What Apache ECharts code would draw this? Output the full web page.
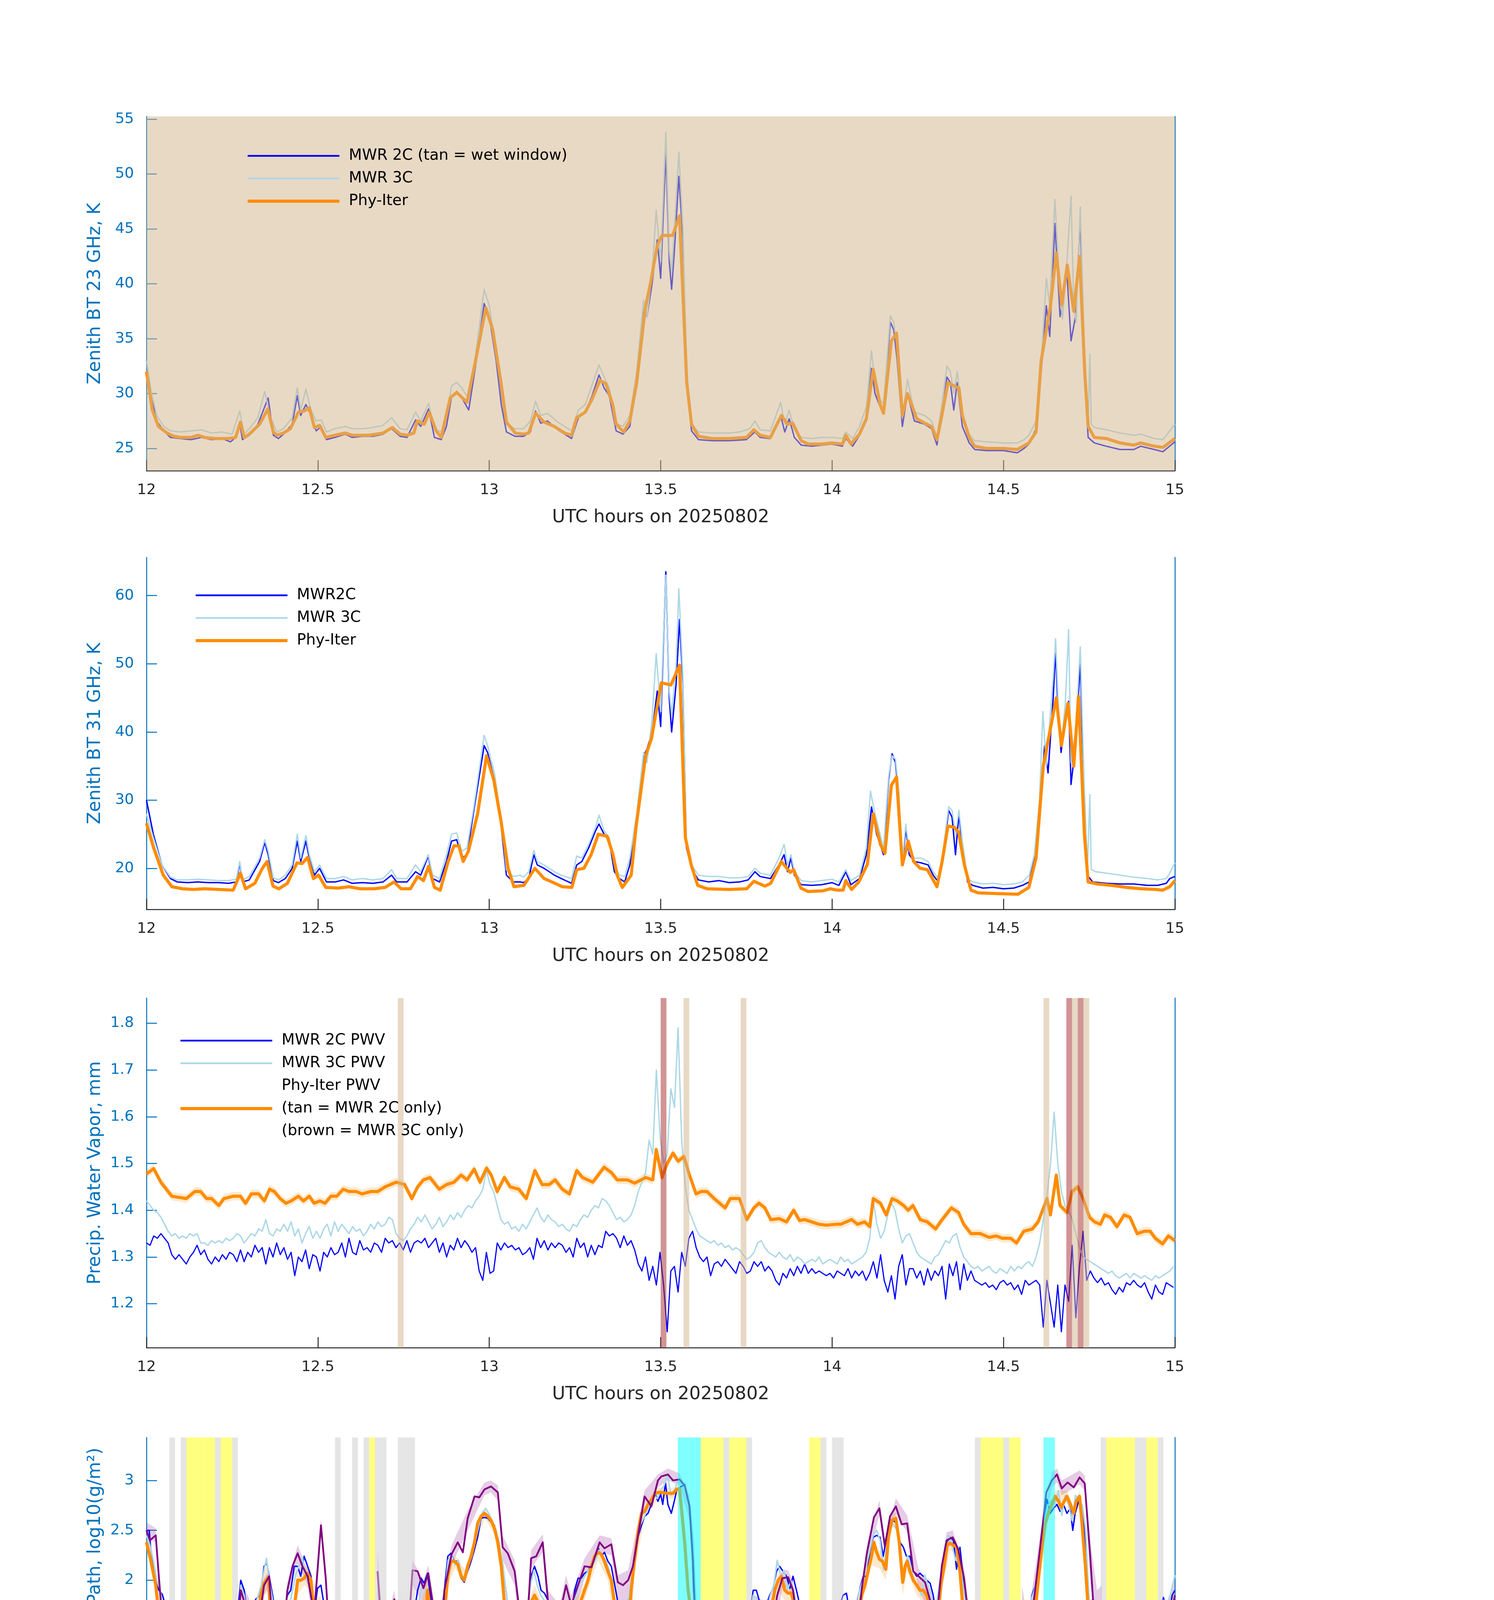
<!DOCTYPE html>
<html><head><meta charset="utf-8">
<script src="https://cdn.jsdelivr.net/npm/echarts@6/dist/echarts.min.js"></script>
<style>html,body{margin:0;padding:0;background:#fff}#c{width:3825px;height:6000px}</style>
</head><body><div id="c"></div>
<script>
// ---------------- DATA ----------------
// Panel 1: zenith brightness temperature 23 GHz (K), [UTC hour, value]
const tb23_2c = [[12.0,33.0],[12.015,29.5],[12.03,27.5],[12.05,26.6],[12.07,26.0],[12.10,25.9],[12.13,25.8],[12.16,26.0],[12.19,25.8],[12.22,25.9],[12.245,25.6],[12.26,26.0],[12.272,27.3],[12.28,25.8],[12.30,26.2],[12.325,27.2],[12.345,28.8],[12.355,29.6],[12.37,26.2],[12.385,25.9],[12.40,26.3],[12.425,27.2],[12.44,29.8],[12.45,28.0],[12.465,29.0],[12.48,28.0],[12.495,26.6],[12.51,27.0],[12.525,25.8],[12.55,26.0],[12.58,26.3],[12.60,26.0],[12.63,26.1],[12.66,26.1],[12.69,26.3],[12.715,26.8],[12.74,26.1],[12.76,26.0],[12.785,27.6],[12.80,27.0],[12.823,28.6],[12.84,26.0],[12.86,25.8],[12.875,27.0],[12.89,29.7],[12.905,30.2],[12.92,29.6],[12.94,28.5],[12.96,32.5],[12.985,38.2],[13.0,37.0],[13.02,33.0],[13.035,29.0],[13.05,26.5],[13.075,26.1],[13.10,26.1],[13.12,26.5],[13.135,28.4],[13.15,27.3],[13.17,27.5],[13.20,26.7],[13.24,25.9],[13.26,27.8],[13.28,28.3],[13.30,29.8],[13.32,31.7],[13.335,30.5],[13.35,29.8],[13.37,26.6],[13.39,26.3],[13.41,27.0],[13.43,31.0],[13.45,37.5],[13.46,37.0],[13.475,40.0],[13.49,44.0],[13.50,40.5],[13.515,52.0],[13.525,42.0],[13.532,39.5],[13.54,43.0],[13.553,49.8],[13.565,44.0],[13.576,31.0],[13.59,26.6],[13.61,25.8],[13.65,25.7],[13.70,25.7],[13.75,25.8],[13.775,26.5],[13.79,26.0],[13.82,25.9],[13.85,28.0],[13.862,26.5],[13.875,27.7],[13.89,26.0],[13.91,25.3],[13.94,25.2],[13.97,25.3],[14.00,25.4],[14.03,25.2],[14.04,25.9],[14.06,25.2],[14.08,26.2],[14.10,27.8],[14.115,32.3],[14.125,30.0],[14.14,28.8],[14.15,28.5],[14.17,36.5],[14.18,35.8],[14.19,33.0],[14.205,27.0],[14.22,30.0],[14.24,27.5],[14.27,27.2],[14.29,26.8],[14.306,25.3],[14.32,28.0],[14.335,31.5],[14.345,31.0],[14.355,28.5],[14.365,31.0],[14.38,27.0],[14.40,25.5],[14.416,24.9],[14.45,24.8],[14.50,24.8],[14.54,24.6],[14.56,25.0],[14.574,25.4],[14.595,26.8],[14.61,32.0],[14.625,38.0],[14.635,35.2],[14.65,45.5],[14.665,37.0],[14.675,39.0],[14.685,41.0],[14.697,34.8],[14.71,37.0],[14.724,45.9],[14.737,31.0],[14.747,26.0],[14.765,25.5],[14.80,25.2],[14.84,24.9],[14.88,24.9],[14.90,25.2],[14.94,24.9],[14.965,24.7],[15.0,25.6]];
const tb23_3c = [[12.0,33.0],[12.015,30.0],[12.03,28.0],[12.05,27.0],[12.07,26.6],[12.10,26.5],[12.13,26.6],[12.16,26.7],[12.19,26.4],[12.22,26.5],[12.25,26.3],[12.272,28.4],[12.285,26.3],[12.30,26.8],[12.325,27.8],[12.345,30.2],[12.36,28.0],[12.38,26.5],[12.40,26.8],[12.425,27.8],[12.44,30.5],[12.45,28.5],[12.465,30.4],[12.48,28.5],[12.495,27.5],[12.51,27.6],[12.525,26.5],[12.55,26.8],[12.58,27.0],[12.60,26.8],[12.63,26.8],[12.66,26.9],[12.69,27.1],[12.715,27.8],[12.74,26.8],[12.76,26.7],[12.785,28.3],[12.80,27.5],[12.823,29.1],[12.84,26.8],[12.86,26.5],[12.875,28.0],[12.89,30.7],[12.905,31.0],[12.92,30.5],[12.94,29.5],[12.96,33.5],[12.985,39.5],[13.0,38.0],[13.02,34.0],[13.035,30.0],[13.05,27.2],[13.075,26.8],[13.10,26.8],[13.12,27.5],[13.135,29.3],[13.15,28.0],[13.17,28.2],[13.20,27.4],[13.24,26.6],[13.26,28.5],[13.28,29.0],[13.30,30.8],[13.32,32.6],[13.335,31.5],[13.35,30.5],[13.37,27.3],[13.39,27.0],[13.41,28.0],[13.43,32.0],[13.45,38.5],[13.46,37.0],[13.475,41.0],[13.487,46.7],[13.50,42.0],[13.515,53.8],[13.525,43.0],[13.532,41.0],[13.54,45.0],[13.553,52.0],[13.565,45.0],[13.576,32.0],[13.59,27.2],[13.61,26.5],[13.65,26.4],[13.70,26.4],[13.73,26.5],[13.76,26.8],[13.775,27.5],[13.79,26.7],[13.82,26.6],[13.85,29.2],[13.862,27.2],[13.875,28.5],[13.89,26.7],[13.91,26.0],[13.94,25.9],[13.97,26.0],[14.00,26.0],[14.03,25.9],[14.04,26.5],[14.06,25.9],[14.08,27.0],[14.10,28.8],[14.115,33.9],[14.125,31.0],[14.14,29.5],[14.15,29.0],[14.17,37.1],[14.18,36.5],[14.19,34.0],[14.205,27.8],[14.22,31.3],[14.24,28.3],[14.27,28.0],[14.29,27.5],[14.306,26.0],[14.32,29.0],[14.335,32.5],[14.345,32.0],[14.355,30.0],[14.365,32.0],[14.38,28.0],[14.40,26.3],[14.416,25.7],[14.45,25.6],[14.50,25.5],[14.54,25.5],[14.56,25.8],[14.574,26.2],[14.595,27.5],[14.61,33.0],[14.625,40.5],[14.635,38.0],[14.65,47.7],[14.665,39.0],[14.672,36.8],[14.685,42.0],[14.697,48.0],[14.705,38.0],[14.712,36.5],[14.724,47.0],[14.737,33.0],[14.747,27.5],[14.752,33.6],[14.756,27.2],[14.765,26.9],[14.80,26.7],[14.84,26.4],[14.88,26.2],[14.90,26.3],[14.94,25.9],[14.965,25.8],[15.0,27.2]];
const tb23_phy = [[12.0,32.0],[12.017,28.5],[12.035,27.0],[12.06,26.4],[12.08,26.1],[12.10,26.0],[12.13,26.0],[12.15,26.2],[12.17,26.0],[12.20,25.9],[12.24,25.9],[12.26,26.0],[12.274,27.4],[12.285,26.0],[12.30,26.3],[12.33,27.2],[12.354,28.6],[12.37,26.5],[12.38,26.2],[12.40,26.4],[12.42,26.8],[12.443,28.3],[12.46,28.4],[12.475,28.7],[12.49,26.9],[12.505,27.1],[12.523,26.0],[12.55,26.2],[12.58,26.4],[12.60,26.2],[12.65,26.2],[12.69,26.4],[12.717,26.9],[12.74,26.3],[12.76,26.2],[12.78,26.4],[12.79,27.5],[12.81,27.2],[12.825,28.3],[12.845,26.6],[12.86,26.0],[12.886,29.6],[12.905,30.1],[12.935,29.2],[12.96,33.0],[12.99,37.8],[13.01,35.8],[13.034,31.0],[13.05,27.4],[13.076,26.4],[13.10,26.3],[13.115,26.4],[13.135,28.2],[13.16,27.4],[13.19,27.0],[13.22,26.4],[13.24,26.2],[13.255,27.8],[13.28,28.3],[13.30,29.5],[13.323,31.2],[13.34,30.9],[13.36,29.0],[13.37,27.2],[13.392,26.5],[13.41,27.5],[13.43,31.0],[13.455,37.8],[13.47,40.0],[13.49,43.5],[13.504,44.4],[13.535,44.4],[13.555,46.2],[13.576,31.0],[13.59,27.2],[13.61,26.1],[13.65,25.9],[13.70,25.9],[13.75,26.0],[13.772,26.7],[13.79,26.2],[13.82,26.0],[13.852,28.0],[13.87,27.2],[13.885,27.3],[13.91,25.7],[13.93,25.4],[13.97,25.4],[14.00,25.5],[14.03,25.4],[14.04,26.2],[14.055,25.4],[14.08,26.3],[14.10,27.7],[14.12,32.2],[14.14,29.0],[14.15,28.2],[14.173,34.8],[14.188,35.5],[14.205,28.0],[14.22,30.0],[14.247,27.7],[14.27,27.3],[14.29,27.0],[14.306,25.8],[14.32,28.0],[14.338,31.0],[14.355,30.7],[14.37,30.5],[14.38,28.0],[14.40,26.0],[14.416,25.2],[14.45,25.0],[14.50,25.0],[14.54,24.9],[14.574,25.5],[14.595,26.5],[14.61,33.0],[14.637,38.0],[14.654,42.8],[14.67,38.1],[14.686,41.7],[14.705,37.5],[14.722,42.5],[14.737,32.0],[14.747,27.0],[14.765,26.0],[14.80,25.9],[14.84,25.5],[14.88,25.3],[14.90,25.5],[14.94,25.2],[14.965,25.1],[15.0,25.9]];

// Panel 2: zenith brightness temperature 31 GHz (K)
const tb31_2c = [[12.0,30.0],[12.02,25.0],[12.045,20.5],[12.07,18.5],[12.09,18.0],[12.12,17.9],[12.15,18.0],[12.18,17.9],[12.21,17.9],[12.24,17.8],[12.262,18.0],[12.272,20.8],[12.28,18.0],[12.30,18.3],[12.33,21.0],[12.345,23.8],[12.355,22.0],[12.37,18.2],[12.385,17.9],[12.405,18.5],[12.425,20.0],[12.44,24.0],[12.45,21.0],[12.465,24.0],[12.475,21.5],[12.49,19.0],[12.505,20.0],[12.525,18.0],[12.55,18.0],[12.575,18.3],[12.60,17.8],[12.63,17.9],[12.66,17.8],[12.69,18.0],[12.715,19.0],[12.73,18.0],[12.76,18.0],[12.785,19.5],[12.80,19.0],[12.822,21.8],[12.835,18.5],[12.855,18.0],[12.875,21.0],[12.89,24.0],[12.905,24.2],[12.92,21.5],[12.935,22.0],[12.955,28.5],[12.985,38.0],[12.995,37.0],[13.015,33.0],[13.035,26.0],[13.05,19.0],[13.07,18.0],[13.09,18.0],[13.10,17.9],[13.115,18.5],[13.13,22.0],[13.14,20.5],[13.16,20.0],[13.19,19.0],[13.21,18.5],[13.24,17.8],[13.255,20.5],[13.27,21.0],[13.29,23.0],[13.31,25.5],[13.32,26.5],[13.335,25.0],[13.35,24.0],[13.365,19.5],[13.38,18.5],[13.395,18.0],[13.41,20.5],[13.43,27.0],[13.45,36.5],[13.46,37.5],[13.475,40.0],[13.49,46.0],[13.50,40.8],[13.515,63.5],[13.525,45.0],[13.532,40.0],[13.545,47.0],[13.555,56.5],[13.565,47.0],[13.575,23.0],[13.59,20.0],[13.61,18.3],[13.64,18.0],[13.67,18.2],[13.70,17.9],[13.73,18.0],[13.755,18.3],[13.775,19.5],[13.79,18.8],[13.82,18.5],[13.845,20.5],[13.86,22.0],[13.87,19.5],[13.88,21.5],[13.89,19.0],[13.91,17.6],[13.94,17.5],[13.97,17.6],[14.00,17.9],[14.02,17.5],[14.04,19.5],[14.055,17.6],[14.08,18.5],[14.10,22.0],[14.115,29.0],[14.13,25.0],[14.15,22.0],[14.165,33.0],[14.175,36.8],[14.185,35.5],[14.195,30.0],[14.205,20.5],[14.215,25.8],[14.225,22.0],[14.24,21.0],[14.26,20.8],[14.28,20.5],[14.295,19.0],[14.31,18.0],[14.325,22.0],[14.34,28.5],[14.35,27.5],[14.36,22.0],[14.37,28.0],[14.38,23.0],[14.395,18.0],[14.41,17.5],[14.44,17.1],[14.47,17.2],[14.50,17.0],[14.53,17.1],[14.555,17.5],[14.575,18.0],[14.59,21.5],[14.605,28.0],[14.62,38.0],[14.63,34.0],[14.645,45.0],[14.652,52.0],[14.66,42.0],[14.668,37.0],[14.68,42.0],[14.69,44.5],[14.697,32.3],[14.71,38.0],[14.724,50.2],[14.735,31.0],[14.745,19.0],[14.76,18.0],[14.80,17.8],[14.84,17.7],[14.88,17.7],[14.92,17.5],[14.95,17.5],[14.975,17.8],[14.985,18.5],[15.0,18.8]];
const tb31_3c = [[12.0,28.0],[12.02,24.5],[12.045,20.5],[12.07,18.7],[12.09,18.3],[12.12,18.3],[12.15,18.4],[12.18,18.3],[12.21,18.2],[12.24,18.2],[12.262,18.4],[12.272,21.0],[12.28,18.3],[12.30,18.8],[12.33,21.5],[12.345,24.2],[12.355,22.5],[12.37,18.6],[12.385,18.3],[12.405,19.0],[12.425,20.5],[12.44,25.0],[12.45,21.5],[12.465,24.8],[12.475,22.0],[12.49,19.5],[12.505,20.5],[12.525,18.5],[12.55,18.5],[12.575,18.8],[12.60,18.3],[12.63,18.5],[12.66,18.3],[12.69,18.5],[12.715,19.8],[12.73,18.5],[12.76,18.5],[12.785,20.5],[12.80,19.5],[12.822,22.0],[12.835,19.0],[12.855,18.5],[12.875,22.0],[12.89,25.0],[12.905,25.2],[12.92,22.5],[12.935,23.0],[12.955,29.0],[12.985,39.5],[12.995,38.0],[13.015,34.0],[13.035,27.0],[13.05,19.8],[13.07,18.8],[13.09,19.0],[13.10,18.7],[13.115,19.5],[13.13,22.6],[13.14,21.0],[13.16,20.5],[13.19,19.5],[13.21,19.0],[13.24,18.5],[13.255,21.8],[13.27,21.5],[13.29,23.5],[13.31,26.0],[13.32,27.8],[13.335,25.5],[13.35,24.5],[13.365,20.5],[13.38,19.0],[13.395,18.8],[13.41,21.5],[13.43,28.0],[13.45,37.0],[13.46,35.5],[13.475,42.0],[13.487,51.5],[13.50,43.0],[13.515,63.0],[13.525,46.0],[13.532,42.5],[13.545,50.0],[13.553,61.0],[13.565,48.0],[13.575,24.0],[13.59,20.5],[13.61,19.0],[13.64,18.8],[13.67,18.8],[13.70,18.6],[13.73,18.6],[13.755,18.8],[13.775,20.0],[13.79,19.3],[13.82,19.0],[13.845,21.5],[13.86,23.5],[13.87,20.5],[13.88,22.0],[13.89,19.5],[13.91,18.2],[13.94,18.0],[13.97,18.2],[14.00,18.4],[14.02,18.0],[14.04,19.8],[14.055,18.2],[14.08,19.0],[14.10,23.0],[14.112,31.3],[14.125,28.0],[14.15,23.0],[14.165,33.5],[14.175,36.5],[14.185,36.0],[14.195,31.0],[14.205,21.0],[14.215,26.5],[14.225,22.5],[14.24,21.5],[14.26,21.5],[14.28,21.0],[14.295,19.5],[14.31,18.5],[14.325,23.0],[14.34,29.0],[14.35,28.5],[14.36,25.0],[14.37,28.5],[14.38,24.0],[14.395,18.5],[14.41,18.0],[14.44,17.7],[14.47,17.8],[14.50,17.6],[14.53,17.7],[14.555,18.0],[14.575,19.0],[14.59,22.0],[14.605,30.0],[14.615,43.0],[14.625,35.0],[14.645,48.0],[14.652,53.7],[14.66,44.0],[14.668,38.0],[14.68,44.0],[14.69,55.0],[14.697,35.5],[14.71,40.0],[14.724,52.5],[14.735,33.0],[14.745,20.0],[14.752,30.8],[14.756,19.8],[14.77,19.5],[14.80,19.3],[14.84,19.0],[14.88,18.7],[14.92,18.5],[14.95,18.3],[14.975,18.5],[14.985,19.3],[15.0,20.8]];
const tb31_phy = [[12.000,26.6],[12.021,23.0],[12.049,19.0],[12.074,17.3],[12.105,17.0],[12.137,16.9],[12.169,17.0],[12.211,16.9],[12.253,16.8],[12.274,19.3],[12.289,17.0],[12.316,17.8],[12.338,20.0],[12.352,21.0],[12.369,17.4],[12.386,17.0],[12.411,17.8],[12.439,20.8],[12.454,20.7],[12.470,21.6],[12.487,18.5],[12.502,19.0],[12.523,17.2],[12.559,17.1],[12.591,17.3],[12.622,17.0],[12.665,17.0],[12.696,17.2],[12.722,18.0],[12.743,17.0],[12.770,17.0],[12.791,18.8],[12.808,18.2],[12.823,20.3],[12.840,17.2],[12.857,16.8],[12.880,21.0],[12.897,23.3],[12.911,23.3],[12.924,21.0],[12.939,22.5],[12.966,28.0],[12.992,36.5],[13.013,33.0],[13.034,27.0],[13.055,20.0],[13.072,17.3],[13.101,17.5],[13.133,20.0],[13.160,18.5],[13.192,17.8],[13.213,17.3],[13.241,17.2],[13.255,19.8],[13.276,20.0],[13.297,22.0],[13.318,25.0],[13.344,24.7],[13.361,22.0],[13.373,19.0],[13.388,17.2],[13.414,19.0],[13.428,26.0],[13.456,36.5],[13.473,39.0],[13.487,43.0],[13.502,47.2],[13.530,46.9],[13.555,49.8],[13.572,24.5],[13.589,20.5],[13.608,17.5],[13.635,17.0],[13.698,16.9],[13.751,17.0],[13.772,18.1],[13.804,17.4],[13.821,17.8],[13.852,21.0],[13.878,19.4],[13.888,19.8],[13.909,17.1],[13.930,16.6],[13.973,16.7],[13.994,17.0],[14.015,16.8],[14.032,16.8],[14.040,18.2],[14.057,16.9],[14.078,18.0],[14.103,20.6],[14.120,28.0],[14.141,23.5],[14.154,22.2],[14.173,32.2],[14.188,33.4],[14.205,20.5],[14.222,24.0],[14.238,21.0],[14.257,20.0],[14.278,19.8],[14.306,17.3],[14.321,21.0],[14.338,26.2],[14.357,26.0],[14.369,25.3],[14.386,20.5],[14.405,16.8],[14.426,16.4],[14.479,16.3],[14.542,16.2],[14.574,17.2],[14.595,21.5],[14.616,35.0],[14.637,40.5],[14.654,45.0],[14.669,38.0],[14.688,44.2],[14.705,35.0],[14.719,45.2],[14.736,25.0],[14.747,18.0],[14.774,17.7],[14.816,17.5],[14.859,17.2],[14.901,17.0],[14.943,16.9],[14.964,16.8],[14.985,17.3],[15.000,18.2]];

// Panel 3: precipitable water vapor (mm). MWR samples every PWV_DT hours from PWV_T0
const PWV_T0 = 12.0, PWV_DT = 0.010549;
const pwv_2c = [
1.33,1.325,1.345,1.34,1.35,1.34,1.33,1.305,1.295,1.305,1.295,1.285,1.3,1.31,1.325,1.305,1.315,1.295,1.285,1.3,
1.29,1.305,1.295,1.31,1.305,1.29,1.315,1.29,1.31,1.3,1.325,1.31,1.32,1.285,1.32,1.3,1.33,1.305,1.32,1.295,
1.31,1.26,1.3,1.29,1.315,1.275,1.305,1.3,1.27,1.31,1.3,1.32,1.305,1.31,1.33,1.3,1.34,1.31,1.305,1.335,
1.315,1.32,1.31,1.33,1.325,1.31,1.34,1.33,1.335,1.32,1.33,1.315,1.335,1.31,1.33,1.335,1.33,1.34,1.32,1.33,
1.34,1.31,1.33,1.3,1.325,1.315,1.34,1.32,1.335,1.325,1.31,1.32,1.27,1.25,1.31,1.265,1.27,1.33,1.315,1.33,
1.32,1.325,1.315,1.32,1.305,1.31,1.32,1.295,1.34,1.32,1.335,1.315,1.33,1.32,1.33,1.325,1.31,1.32,1.3,1.34,
1.32,1.33,1.3,1.325,1.305,1.325,1.32,1.355,1.345,1.35,1.34,1.32,1.345,1.325,1.335,1.315,1.285,1.27,1.3,1.25,
1.28,1.24,1.31,1.24,1.14,1.27,1.28,1.225,1.31,1.28,1.34,1.355,1.32,1.3,1.29,1.3,1.26,1.285,1.29,1.28,
1.295,1.285,1.275,1.265,1.29,1.28,1.265,1.27,1.29,1.28,1.29,1.27,1.28,1.27,1.25,1.24,1.265,1.255,1.275,1.26,
1.28,1.265,1.285,1.265,1.275,1.265,1.27,1.265,1.26,1.265,1.255,1.27,1.265,1.26,1.275,1.255,1.27,1.26,1.27,1.25,
1.265,1.29,1.255,1.305,1.25,1.225,1.26,1.21,1.28,1.305,1.24,1.275,1.275,1.255,1.27,1.24,1.275,1.25,1.27,1.26,
1.28,1.21,1.285,1.26,1.29,1.23,1.285,1.25,1.27,1.25,1.245,1.24,1.245,1.235,1.24,1.23,1.245,1.25,1.24,1.245,
1.23,1.24,1.22,1.25,1.24,1.245,1.25,1.24,1.15,1.25,1.2,1.15,1.24,1.14,1.24,1.205,1.325,1.17,1.28,1.355,
1.25,1.27,1.255,1.245,1.255,1.24,1.245,1.23,1.22,1.235,1.225,1.245,1.24,1.25,1.24,1.235,1.245,1.225,1.21,1.24,
1.225,1.22,1.245,1.24,1.235];
const pwv_3c = [
1.42,1.41,1.40,1.395,1.385,1.37,1.355,1.345,1.35,1.34,1.345,1.34,1.35,1.345,1.35,1.33,1.33,1.325,1.335,1.33,
1.335,1.33,1.34,1.335,1.34,1.35,1.345,1.33,1.34,1.35,1.345,1.36,1.355,1.38,1.35,1.345,1.36,1.355,1.37,1.355,
1.375,1.345,1.36,1.33,1.35,1.365,1.34,1.355,1.34,1.36,1.37,1.345,1.375,1.355,1.37,1.36,1.35,1.365,1.355,1.36,
1.345,1.355,1.37,1.36,1.375,1.365,1.37,1.385,1.38,1.35,1.34,1.335,1.345,1.36,1.37,1.385,1.375,1.39,1.375,1.36,
1.37,1.385,1.365,1.375,1.39,1.38,1.395,1.385,1.40,1.41,1.405,1.42,1.43,1.445,1.485,1.455,1.44,1.41,1.38,1.37,
1.375,1.36,1.365,1.355,1.37,1.36,1.375,1.39,1.405,1.385,1.375,1.39,1.38,1.375,1.365,1.37,1.36,1.355,1.37,1.365,
1.38,1.39,1.385,1.40,1.41,1.405,1.425,1.42,1.41,1.395,1.38,1.385,1.375,1.38,1.39,1.41,1.44,1.46,1.48,1.55,
1.52,1.70,1.56,1.50,1.52,1.66,1.62,1.79,1.55,1.45,1.40,1.38,1.36,1.345,1.34,1.335,1.33,1.335,1.325,1.33,
1.32,1.325,1.315,1.32,1.315,1.305,1.295,1.30,1.31,1.33,1.335,1.32,1.31,1.305,1.30,1.31,1.30,1.295,1.305,1.29,
1.30,1.295,1.285,1.29,1.295,1.29,1.30,1.285,1.29,1.295,1.29,1.285,1.30,1.29,1.295,1.285,1.29,1.295,1.30,1.31,
1.34,1.42,1.37,1.34,1.355,1.39,1.415,1.40,1.36,1.33,1.345,1.35,1.33,1.31,1.30,1.295,1.29,1.285,1.30,1.305,
1.32,1.335,1.33,1.345,1.35,1.32,1.30,1.29,1.28,1.275,1.28,1.27,1.275,1.28,1.27,1.265,1.275,1.27,1.265,1.28,
1.27,1.28,1.275,1.285,1.29,1.28,1.30,1.33,1.38,1.43,1.50,1.61,1.50,1.44,1.41,1.40,1.38,1.35,1.32,1.30,
1.295,1.29,1.285,1.28,1.275,1.27,1.265,1.27,1.26,1.255,1.26,1.265,1.255,1.265,1.26,1.255,1.26,1.255,1.25,1.26,
1.255,1.26,1.265,1.27,1.28];
const pwv_phy = [[12.000,1.478],[12.021,1.489],[12.042,1.46],[12.074,1.43],[12.116,1.425],[12.141,1.44],[12.158,1.44],[12.175,1.425],[12.190,1.425],[12.211,1.41],[12.226,1.425],[12.253,1.43],[12.274,1.43],[12.289,1.415],[12.306,1.435],[12.327,1.435],[12.344,1.42],[12.359,1.445],[12.373,1.44],[12.390,1.425],[12.407,1.415],[12.422,1.42],[12.443,1.43],[12.458,1.42],[12.475,1.43],[12.489,1.415],[12.506,1.42],[12.521,1.415],[12.538,1.43],[12.555,1.43],[12.574,1.445],[12.591,1.44],[12.612,1.44],[12.629,1.435],[12.654,1.44],[12.675,1.44],[12.696,1.45],[12.728,1.46],[12.753,1.455],[12.774,1.425],[12.791,1.45],[12.808,1.465],[12.827,1.47],[12.854,1.445],[12.876,1.455],[12.897,1.46],[12.918,1.475],[12.935,1.465],[12.956,1.488],[12.973,1.46],[12.992,1.49],[13.006,1.475],[13.023,1.44],[13.044,1.47],[13.061,1.45],[13.086,1.445],[13.108,1.425],[13.133,1.485],[13.154,1.455],[13.175,1.455],[13.192,1.465],[13.213,1.445],[13.234,1.435],[13.255,1.485],[13.272,1.47],[13.302,1.46],[13.335,1.492],[13.357,1.48],[13.373,1.465],[13.403,1.465],[13.424,1.458],[13.456,1.47],[13.477,1.465],[13.487,1.53],[13.504,1.47],[13.519,1.5],[13.536,1.522],[13.551,1.505],[13.568,1.515],[13.582,1.48],[13.603,1.435],[13.618,1.44],[13.635,1.44],[13.656,1.425],[13.688,1.405],[13.703,1.425],[13.730,1.425],[13.751,1.38],[13.772,1.405],[13.787,1.415],[13.804,1.405],[13.821,1.38],[13.846,1.382],[13.867,1.375],[13.888,1.4],[13.905,1.378],[13.920,1.38],[13.941,1.375],[13.962,1.37],[13.983,1.368],[14.011,1.37],[14.025,1.37],[14.057,1.38],[14.074,1.37],[14.095,1.375],[14.110,1.365],[14.120,1.425],[14.141,1.415],[14.158,1.39],[14.175,1.425],[14.190,1.42],[14.209,1.41],[14.222,1.4],[14.236,1.41],[14.257,1.38],[14.278,1.375],[14.302,1.36],[14.321,1.38],[14.348,1.405],[14.369,1.395],[14.384,1.37],[14.405,1.35],[14.432,1.35],[14.458,1.342],[14.479,1.345],[14.496,1.34],[14.521,1.34],[14.538,1.33],[14.559,1.355],[14.584,1.36],[14.601,1.375],[14.627,1.425],[14.637,1.39],[14.654,1.475],[14.665,1.41],[14.686,1.395],[14.700,1.44],[14.717,1.45],[14.732,1.425],[14.751,1.385],[14.766,1.375],[14.783,1.37],[14.795,1.39],[14.812,1.385],[14.831,1.365],[14.852,1.39],[14.869,1.385],[14.890,1.35],[14.911,1.355],[14.928,1.355],[14.943,1.34],[14.964,1.328],[14.981,1.345],[15.000,1.335]];
const PWV_PHY_UNC = 0.009;
// single-instrument windows: [start hour, end hour, kind]
const pwvWindows = [[12.7333,12.75,'tan'],[13.5,13.5167,'brown'],[13.5667,13.5833,'tan'],[13.7333,13.75,'tan'],[14.6167,14.6333,'tan'],[14.6833,14.7,'brown'],[14.7,14.7167,'tan'],[14.7167,14.7333,'brown'],[14.7333,14.75,'tan']];
const wetWindows = [[12.0,15.0,'tan']];

// Panel 4: log10 liquid water path
const lwp_2c = [[12.000,2.50],[12.008,2.50],[12.012,2.33],[12.027,2.02],[12.036,1.90],[12.046,1.86],[12.056,1.74],[12.066,1.71],[12.075,1.69],[12.085,1.72],[12.095,1.66],[12.105,1.67],[12.116,1.66],[12.13,1.64],[12.14,1.66],[12.15,1.62],[12.16,1.66],[12.17,1.63],[12.18,1.67],[12.19,1.65],[12.20,1.66],[12.21,1.64],[12.22,1.67],[12.23,1.63],[12.24,1.65],[12.25,1.62],[12.26,1.64],[12.265,1.65],[12.275,2.00],[12.285,1.90],[12.294,1.66],[12.304,1.67],[12.319,1.81],[12.333,1.86],[12.343,2.14],[12.351,2.17],[12.358,2.04],[12.368,1.85],[12.377,1.66],[12.384,1.78],[12.392,1.66],[12.402,1.69],[12.411,1.85],[12.421,1.90],[12.431,2.14],[12.441,2.14],[12.450,2.04],[12.460,2.24],[12.470,2.14],[12.480,2.04],[12.489,1.66],[12.499,1.92],[12.509,1.95],[12.518,1.75],[12.528,1.66],[12.538,1.68],[12.548,1.61],[12.557,1.63],[12.567,1.68],[12.577,1.69],[12.587,1.66],[12.596,1.61],[12.606,1.63],[12.616,1.60],[12.625,1.60],[12.635,1.63],[12.645,1.60],[12.655,1.59],[12.665,1.61],[12.674,1.63],[12.684,1.66],[12.694,1.63],[12.704,1.66],[12.713,1.61],[12.723,1.63],[12.733,1.63],[12.742,1.63],[12.752,1.66],[12.762,1.63],[12.771,1.66],[12.781,1.68],[12.791,1.90],[12.801,2.02],[12.810,1.97],[12.820,2.07],[12.830,1.78],[12.840,1.63],[12.849,1.66],[12.859,1.61],[12.869,1.90],[12.879,2.24],[12.888,2.27],[12.898,2.19],[12.908,2.19],[12.918,2.02],[12.927,1.98],[12.937,2.09],[12.947,2.19],[12.957,2.31],[12.966,2.43],[12.976,2.62],[12.986,2.63],[12.996,2.62],[13.005,2.58],[13.015,2.55],[13.025,2.40],[13.035,2.24],[13.044,2.02],[13.054,1.75],[13.064,1.66],[13.074,1.66],[13.083,1.61],[13.093,1.56],[13.103,1.63],[13.112,1.75],[13.122,2.04],[13.132,2.14],[13.142,2.04],[13.151,1.90],[13.161,1.87],[13.171,1.80],[13.181,1.75],[13.190,1.75],[13.200,1.71],[13.210,1.73],[13.220,1.75],[13.229,1.66],[13.239,1.66],[13.249,1.90],[13.259,2.02],[13.268,2.02],[13.278,2.07],[13.288,2.09],[13.298,2.16],[13.307,2.24],[13.317,2.33],[13.327,2.24],[13.336,2.28],[13.346,2.19],[13.356,2.14],[13.366,1.95],[13.375,1.78],[13.385,1.61],[13.395,1.68],[13.405,1.73],[13.414,1.95],[13.424,2.19],[13.434,2.43],[13.444,2.55],[13.453,2.64],[13.463,2.67],[13.473,2.76],[13.482,2.88],[13.492,2.79],[13.500,2.86],[13.506,2.76],[13.514,2.98],[13.521,2.76],[13.531,2.67],[13.541,2.81],[13.547,2.91],[13.570,2.96],[13.584,2.76],[13.592,2.38],[13.596,1.90],[13.602,1.71],[13.609,1.68],[13.62,1.66],[13.63,1.69],[13.64,1.65],[13.65,1.68],[13.66,1.64],[13.67,1.69],[13.68,1.66],[13.69,1.67],[13.70,1.63],[13.71,1.68],[13.72,1.65],[13.73,1.68],[13.74,1.64],[13.75,1.67],[13.760,1.68],[13.770,1.90],[13.779,1.90],[13.789,1.78],[13.799,1.71],[13.808,1.75],[13.818,1.85],[13.828,1.92],[13.838,2.09],[13.847,2.14],[13.857,2.09],[13.867,2.04],[13.877,1.92],[13.886,2.04],[13.896,1.90],[13.906,1.75],[13.916,1.66],[13.925,1.63],[13.935,1.61],[13.945,1.63],[13.955,1.61],[13.964,1.66],[13.974,1.63],[13.984,1.68],[13.993,1.73],[14.003,1.66],[14.013,1.63],[14.023,1.75],[14.032,1.85],[14.042,1.87],[14.052,1.66],[14.062,1.71],[14.071,1.75],[14.081,1.92],[14.091,2.04],[14.101,2.04],[14.110,2.28],[14.120,2.43],[14.130,2.45],[14.140,2.43],[14.149,2.24],[14.159,2.43],[14.169,2.57],[14.179,2.60],[14.188,2.57],[14.198,2.38],[14.208,2.33],[14.217,2.24],[14.227,2.24],[14.237,2.09],[14.247,2.04],[14.256,2.07],[14.266,2.04],[14.276,2.00],[14.286,1.97],[14.295,1.85],[14.305,1.61],[14.315,1.95],[14.325,2.09],[14.334,2.38],[14.344,2.43],[14.354,2.40],[14.363,2.11],[14.373,2.33],[14.383,2.02],[14.393,1.80],[14.402,1.68],[14.412,1.61],[14.422,1.51],[14.432,1.59],[14.441,1.59],[14.451,1.61],[14.461,1.59],[14.471,1.60],[14.480,1.61],[14.490,1.58],[14.500,1.60],[14.510,1.57],[14.519,1.61],[14.529,1.58],[14.539,1.60],[14.546,1.57],[14.554,1.75],[14.563,1.61],[14.573,1.66],[14.583,1.85],[14.593,1.95],[14.602,2.09],[14.607,2.24],[14.617,2.62],[14.627,2.81],[14.636,2.67],[14.646,2.72],[14.656,2.76],[14.665,2.69],[14.675,2.76],[14.685,2.67],[14.695,2.72],[14.702,2.50],[14.709,2.67],[14.719,2.79],[14.729,2.74],[14.738,2.38],[14.743,1.95],[14.748,1.75],[14.758,1.80],[14.773,1.71],[14.787,1.68],[14.80,1.66],[14.81,1.68],[14.82,1.65],[14.83,1.67],[14.84,1.64],[14.85,1.68],[14.86,1.66],[14.87,1.65],[14.88,1.68],[14.89,1.64],[14.90,1.67],[14.91,1.63],[14.92,1.66],[14.93,1.64],[14.94,1.67],[14.95,1.65],[14.958,1.71],[14.966,1.83],[14.975,1.75],[14.984,1.66],[14.992,1.85],[15.0,1.90]];
const lwp_3c = [[12.0,2.45],[12.01,2.35],[12.02,2.2],[12.03,2.0],[12.04,1.9],[12.05,1.7],[12.06,1.58],[12.07,1.55],[12.08,1.56],[12.09,1.53],[12.10,1.5],[12.11,1.51],[12.12,1.5],[12.13,1.52],[12.14,1.5],[12.15,1.53],[12.16,1.5],[12.17,1.52],[12.18,1.51],[12.19,1.53],[12.20,1.5],[12.21,1.51],[12.22,1.49],[12.23,1.51],[12.24,1.5],[12.25,1.52],[12.26,1.5],[12.27,1.55],[12.275,1.95],[12.285,1.85],[12.295,1.6],[12.305,1.55],[12.32,1.78],[12.335,1.95],[12.343,2.1],[12.35,2.22],[12.358,2.0],[12.368,1.8],[12.377,1.58],[12.386,1.6],[12.395,1.55],[12.405,1.7],[12.42,1.8],[12.435,2.05],[12.445,2.15],[12.455,2.23],[12.465,2.0],[12.475,2.05],[12.485,1.75],[12.495,1.55],[12.505,1.75],[12.515,1.6],[12.53,1.55],[12.55,1.52],[12.57,1.55],[12.59,1.5],[12.61,1.53],[12.63,1.5],[12.65,1.55],[12.67,1.52],[12.69,1.5],[12.71,1.55],[12.73,1.52],[12.75,1.5],[12.77,1.53],[12.785,1.6],[12.795,1.8],[12.805,1.95],[12.815,1.9],[12.825,1.8],[12.835,1.6],[12.85,1.52],[12.86,1.55],[12.87,1.85],[12.88,2.2],[12.89,2.25],[12.90,2.15],[12.91,2.2],[12.92,2.05],[12.93,2.0],[12.94,2.15],[12.95,2.25],[12.96,2.4],[12.97,2.55],[12.98,2.68],[12.99,2.72],[13.0,2.66],[13.01,2.58],[13.02,2.5],[13.03,2.35],[13.04,2.15],[13.05,1.85],[13.06,1.65],[13.07,1.58],[13.08,1.55],[13.09,1.52],[13.10,1.6],[13.11,1.7],[13.12,1.95],[13.13,2.1],[13.14,1.95],[13.15,1.85],[13.16,1.8],[13.17,1.75],[13.18,1.72],[13.19,1.7],[13.20,1.65],[13.21,1.68],[13.22,1.6],[13.23,1.55],[13.24,1.6],[13.25,1.8],[13.26,1.95],[13.27,2.0],[13.28,2.05],[13.29,2.1],[13.30,2.15],[13.31,2.2],[13.32,2.3],[13.33,2.25],[13.34,2.2],[13.35,2.1],[13.36,1.9],[13.37,1.75],[13.38,1.58],[13.39,1.6],[13.40,1.7],[13.41,1.9],[13.42,2.15],[13.43,2.4],[13.44,2.55],[13.45,2.62],[13.46,2.7],[13.47,2.78],[13.48,2.85],[13.49,2.82],[13.50,2.9],[13.51,2.95],[13.52,3.05],[13.53,2.85],[13.54,2.9],[13.55,3.0],[13.57,2.95],[13.585,2.75],[13.595,2.4],[13.602,1.8],[13.607,1.1],null,[13.615,1.62],[13.63,1.61],[13.65,1.63],[13.67,1.6],[13.69,1.61],[13.71,1.59],[13.73,1.6],[13.75,1.58],[13.76,1.62],[13.77,1.85],[13.78,1.82],[13.79,1.7],[13.80,1.62],[13.81,1.7],[13.82,1.85],[13.83,1.95],[13.84,2.2],[13.85,2.05],[13.86,2.1],[13.87,1.9],[13.88,2.0],[13.89,1.85],[13.90,1.7],[13.91,1.55],[13.93,1.52],[13.95,1.48],[13.97,1.5],[13.99,1.55],[14.00,1.6],[14.01,1.52],[14.02,1.6],[14.03,1.75],[14.04,1.8],[14.05,1.6],[14.06,1.55],[14.07,1.7],[14.08,1.9],[14.09,2.0],[14.10,2.15],[14.11,2.3],[14.12,2.45],[14.13,2.5],[14.14,2.4],[14.15,2.1],[14.16,2.35],[14.17,2.6],[14.18,2.55],[14.19,2.5],[14.20,2.2],[14.21,2.0],[14.22,2.25],[14.23,2.1],[14.24,2.0],[14.25,1.95],[14.26,1.85],[14.27,2.05],[14.28,1.95],[14.29,1.85],[14.30,1.6],[14.31,1.9],[14.32,2.1],[14.33,2.35],[14.34,2.45],[14.35,2.35],[14.36,2.2],[14.37,2.3],[14.38,2.0],[14.39,1.75],[14.40,1.6],[14.41,1.55],[14.42,1.48],[14.44,1.46],[14.46,1.45],[14.48,1.47],[14.50,1.44],[14.52,1.46],[14.54,1.45],[14.555,1.6],[14.57,1.65],[14.58,1.8],[14.59,1.9],[14.60,2.1],[14.61,2.35],[14.62,2.6],[14.63,2.75],[14.64,2.8],[14.65,2.75],[14.66,2.9],[14.67,2.65],[14.68,2.85],[14.69,2.75],[14.70,2.6],[14.71,2.85],[14.72,2.8],[14.73,2.75],[14.74,2.5],[14.745,2.1],[14.75,1.8],[14.76,1.72],[14.78,1.7],[14.80,1.68],[14.82,1.66],[14.84,1.65],[14.86,1.64],[14.88,1.62],[14.90,1.6],[14.92,1.58],[14.94,1.56],[14.95,1.57],[14.96,1.7],[14.97,1.8],[14.98,1.72],[14.99,1.9],[15.0,2.05]];
const lwp_phy = [[12.000,2.38],[12.012,2.21],[12.027,1.95],[12.036,1.66],[12.046,1.42],[12.056,1.18],[12.066,0.99],[12.073,0.84],[12.090,0.84],[12.100,0.58],[12.107,0.34],null,
[12.264,-0.6],[12.275,1.78],[12.285,1.20],[12.290,0.87],[12.299,0.95],[12.309,1.07],[12.319,1.40],[12.333,1.85],[12.343,1.97],[12.356,2.03],[12.372,0.94],[12.382,0.82],[12.392,0.60],[12.402,1.18],[12.411,1.27],[12.421,1.49],[12.431,1.71],[12.441,2.00],[12.450,2.00],[12.460,2.02],[12.470,2.07],[12.480,2.00],[12.489,1.66],[12.499,1.73],[12.509,1.73],[12.518,1.18],[12.528,0.94],[12.538,0.65],[12.548,0.65],[12.557,0.67],[12.567,0.82],[12.577,0.91],[12.591,0.93],[12.596,0.70],[12.606,0.34],[12.616,0.50],[12.625,0.59],[12.635,-0.6],null,
[12.674,0.0],[12.684,0.10],[12.694,0.22],[12.704,1.10],[12.713,1.20],[12.723,1.32],[12.733,-0.6],null,
[12.757,-0.6],[12.762,0.7],[12.771,1.18],[12.781,1.54],[12.791,1.68],[12.801,1.59],[12.810,1.49],[12.820,1.90],[12.830,1.66],[12.840,0.94],[12.849,0.46],[12.857,0.02],[12.864,0.46],[12.869,1.66],[12.879,2.04],[12.888,2.19],[12.898,2.19],[12.908,2.16],[12.918,2.04],[12.927,2.00],[12.937,2.14],[12.947,2.24],[12.957,2.38],[12.966,2.57],[12.976,2.64],[12.986,2.67],[12.996,2.64],[13.005,2.60],[13.015,2.52],[13.025,2.38],[13.035,2.14],[13.044,1.78],[13.054,1.42],[13.064,1.06],[13.074,0.94],[13.083,0.99],[13.093,1.06],[13.103,1.20],[13.112,1.66],[13.122,1.78],[13.132,1.85],[13.142,1.78],[13.151,1.73],[13.161,1.66],[13.171,1.61],[13.181,1.49],[13.190,1.37],[13.200,1.13],[13.210,1.03],[13.220,0.97],[13.239,0.96],[13.249,1.71],[13.259,1.75],[13.268,1.80],[13.278,1.90],[13.288,2.00],[13.298,2.14],[13.307,2.24],[13.317,2.28],[13.327,2.26],[13.336,2.19],[13.346,2.09],[13.356,2.00],[13.366,1.75],[13.375,1.37],[13.385,0.77],[13.390,0.77],[13.395,1.18],[13.405,1.42],[13.414,1.90],[13.424,2.21],[13.434,2.48],[13.444,2.67],[13.453,2.69],[13.463,2.76],[13.473,2.81],[13.482,2.86],[13.492,2.88],[13.502,2.88],[13.516,2.87],[13.536,2.87],[13.547,2.91],[13.555,2.92],[13.570,2.38],[13.580,1.90],[13.594,1.54],[13.604,1.18],null,
[13.755,1.32],[13.765,1.54],[13.774,1.61],[13.784,1.49],[13.794,1.42],[13.804,1.33],[13.813,1.49],[13.823,1.73],[13.833,1.90],[13.843,2.00],[13.852,2.04],[13.862,1.90],[13.872,1.87],[13.881,1.87],[13.891,1.75],[13.901,1.51],[13.911,1.18],[13.920,0.76],null,
[13.971,0.78],[13.979,0.94],[13.989,1.12],[13.993,0.99],[14.003,0.83],[14.013,0.84],[14.023,0.87],[14.032,1.37],[14.039,1.54],[14.047,1.30],[14.057,0.93],[14.067,1.42],[14.076,1.66],[14.086,1.85],[14.096,1.95],[14.105,2.09],[14.115,2.24],[14.122,2.38],[14.130,2.28],[14.138,2.21],[14.147,2.19],[14.157,2.11],[14.164,2.43],[14.174,2.60],[14.186,2.62],[14.196,2.38],[14.206,1.98],[14.213,2.14],[14.219,2.19],[14.227,2.09],[14.237,2.00],[14.247,1.95],[14.256,1.90],[14.266,1.90],[14.276,1.85],[14.286,1.73],[14.295,1.51],[14.303,1.30],[14.310,1.66],[14.317,1.95],[14.327,2.14],[14.336,2.36],[14.344,2.37],[14.354,2.35],[14.364,2.33],[14.373,2.09],[14.383,1.66],[14.393,1.18],[14.403,0.58],[14.414,-0.6],null,
[14.554,0.97],[14.563,1.03],[14.573,1.13],[14.583,1.42],[14.593,1.71],[14.602,2.02],[14.612,2.33],[14.622,2.57],[14.631,2.67],[14.641,2.76],[14.651,2.84],[14.661,2.79],[14.668,2.73],[14.677,2.79],[14.685,2.84],[14.695,2.76],[14.705,2.67],[14.712,2.79],[14.722,2.84],[14.729,2.57],[14.739,2.14],[14.748,1.66],[14.758,1.47],[14.768,1.47],[14.778,1.42],[14.785,1.39],null,
[14.885,1.25],[14.904,1.17],null,
[14.962,1.44],[14.97,1.44],[14.98,1.47],[14.99,1.68],[15.0,1.78]];
const lwp_adiab = [[12.000,2.50],[12.010,2.40],[12.027,2.45],[12.036,2.04],[12.046,1.61],[12.056,1.35],[12.066,1.13],[12.075,1.12],[12.085,1.27],[12.095,1.20],[12.107,1.13],null,
[12.258,1.13],[12.275,1.90],[12.290,1.73],[12.304,1.68],[12.324,1.49],[12.343,1.95],[12.358,2.04],[12.372,1.30],[12.390,1.12],[12.411,1.90],[12.426,2.14],[12.441,2.27],[12.455,2.14],[12.470,2.04],[12.489,1.66],[12.509,2.55],[12.523,2.02],[12.538,1.18],[12.557,1.18],[12.577,1.72],[12.591,1.74],[12.606,1.11],[12.625,1.39],[12.640,1.14],null,
[12.674,2.09],[12.684,1.61],[12.694,1.12],[12.708,1.61],[12.723,1.81],[12.742,1.18],[12.757,1.15],[12.776,2.10],[12.791,2.09],[12.808,1.92],[12.822,2.07],[12.840,1.66],[12.857,1.12],[12.869,1.90],[12.890,2.26],[12.908,2.38],[12.923,2.28],[12.937,2.62],[12.957,2.84],[12.971,2.83],[12.986,2.91],[13.005,2.94],[13.025,2.88],[13.039,2.33],[13.054,2.27],[13.074,2.09],[13.093,1.54],[13.108,1.39],[13.122,2.22],[13.137,2.24],[13.156,2.38],[13.171,1.80],[13.190,1.67],[13.205,1.65],[13.224,1.95],[13.239,1.75],[13.259,1.95],[13.278,2.14],[13.298,2.13],[13.322,2.38],[13.336,2.32],[13.356,2.36],[13.375,1.98],[13.390,1.95],[13.405,2.00],[13.419,2.14],[13.453,2.84],[13.473,2.74],[13.492,3.00],[13.502,3.04],[13.521,3.06],[13.536,3.00],[13.555,3.01],[13.570,2.95],[13.584,2.74],[13.594,2.20],[13.606,1.10],null,
[13.757,1.13],[13.772,1.75],[13.789,1.54],[13.806,1.68],[13.823,1.49],[13.840,1.85],[13.855,2.02],[13.872,2.03],[13.886,1.90],[13.906,1.42],[13.920,1.25],null,
[13.971,1.49],[13.989,1.54],[14.005,1.12],[14.021,1.12],[14.039,1.66],[14.057,1.42],[14.071,1.37],[14.086,1.90],[14.101,2.26],[14.122,2.63],[14.138,2.72],[14.154,2.34],[14.169,2.64],[14.186,2.74],[14.203,2.56],[14.219,2.57],[14.237,2.09],[14.252,2.04],[14.271,1.98],[14.286,1.80],[14.303,1.54],[14.320,2.14],[14.334,2.40],[14.352,2.43],[14.368,2.31],[14.385,2.02],[14.403,1.47],[14.417,1.12],null,
[14.554,1.75],[14.570,1.38],[14.588,1.78],[14.607,2.33],[14.625,2.88],[14.641,3.00],[14.656,3.06],[14.670,2.92],[14.687,2.98],[14.705,2.93],[14.722,3.03],[14.737,2.97],[14.753,2.24],[14.763,1.71],[14.773,1.66],[14.787,1.79],null,
[14.888,1.17],[14.904,1.17],null,
[14.956,1.18],[14.967,1.56],[14.987,1.59],[15.000,1.85]];
// uncertainty envelopes [hour, low, high]
const lwp_phy_band = [[12.0,2.3,2.45],[12.03,1.85,2.05],[12.046,1.2,1.6],[12.06,0.5,1.3],[12.07,-0.2,1.1],[12.09,-0.2,1.0],[12.107,-0.2,0.6],null,
[12.262,-0.2,0.5],[12.275,-0.2,1.9],[12.285,-0.2,1.3],[12.295,0.2,1.0],[12.31,0.5,1.2],[12.32,0.9,1.6],[12.333,1.6,2.0],[12.345,1.85,2.1],[12.356,1.9,2.15],[12.372,0.6,1.1],[12.382,-0.2,1.0],[12.392,-0.2,0.9],[12.402,0.6,1.4],[12.42,1.2,1.6],[12.44,1.85,2.1],[12.46,1.95,2.15],[12.48,1.9,2.1],[12.489,1.5,1.8],[12.509,1.6,1.85],[12.518,0.9,1.3],[12.53,0.4,1.1],[12.548,-0.2,1.0],[12.567,0.3,1.2],[12.59,0.5,1.2],[12.606,-0.2,0.9],[12.62,-0.2,1.0],[12.635,-0.2,0.9],null,
[12.674,-0.2,0.3],[12.694,-0.2,0.6],[12.704,0.7,1.35],[12.723,0.9,1.45],[12.733,-0.2,1.4],null,
[12.757,-0.2,1.2],[12.771,0.9,1.4],[12.781,1.3,1.7],[12.801,1.3,1.75],[12.820,1.7,2.05],[12.830,1.3,1.8],[12.840,0.5,1.2],[12.857,-0.2,0.6],[12.864,0.1,0.8],[12.869,1.4,1.8],[12.879,1.95,2.1],[12.9,2.12,2.25],[12.93,2.0,2.1],[12.957,2.32,2.44],[12.986,2.62,2.72],[13.015,2.46,2.58],[13.035,2.05,2.2],[13.054,1.25,1.55],[13.064,-0.2,1.2],[13.083,-0.2,1.1],[13.103,0.1,1.3],[13.112,1.2,1.75],[13.132,1.7,1.95],[13.151,1.5,1.8],[13.171,1.3,1.7],[13.190,-0.2,1.5],[13.210,-0.2,1.3],[13.239,-0.2,1.2],[13.249,1.5,1.8],[13.278,1.8,1.95],[13.317,2.2,2.35],[13.346,2.0,2.15],[13.366,1.5,1.85],[13.375,0.7,1.5],[13.385,-0.2,1.2],[13.395,0.5,1.3],[13.405,1.2,1.6],[13.424,2.1,2.3],[13.453,2.62,2.75],[13.492,2.82,2.93],[13.536,2.82,2.92],[13.555,2.86,2.96],[13.570,2.3,2.5],[13.58,1.7,2.0],[13.604,1.0,1.3],null,
[13.755,1.0,1.45],[13.774,1.45,1.75],[13.794,1.2,1.55],[13.804,1.1,1.45],[13.823,1.6,1.85],[13.843,1.9,2.08],[13.862,1.8,1.97],[13.881,1.78,1.95],[13.901,1.3,1.6],[13.911,0.9,1.3],[13.920,0.4,1.0],null,
[13.971,-0.2,1.1],[13.989,0.5,1.3],[14.003,0.05,1.1],[14.023,-0.2,1.05],[14.032,0.9,1.55],[14.039,1.3,1.7],[14.057,0.4,1.15],[14.067,1.1,1.6],[14.086,1.75,1.95],[14.115,2.15,2.32],[14.138,2.12,2.3],[14.157,2.0,2.2],[14.174,2.52,2.66],[14.186,2.55,2.68],[14.206,1.85,2.08],[14.219,2.1,2.26],[14.247,1.85,2.02],[14.276,1.75,1.92],[14.295,1.3,1.65],[14.303,0.9,1.45],[14.317,1.85,2.02],[14.344,2.3,2.44],[14.364,2.26,2.4],[14.383,1.5,1.8],[14.393,0.9,1.3],[14.403,-0.2,0.9],[14.414,-0.2,0.5],null,
[14.554,-0.2,1.2],[14.573,0.6,1.3],[14.583,1.2,1.6],[14.602,1.9,2.12],[14.631,2.6,2.74],[14.651,2.78,2.9],[14.685,2.78,2.9],[14.705,2.6,2.74],[14.722,2.78,2.9],[14.739,2.0,2.25],[14.748,1.2,1.8],[14.758,1.0,1.7],[14.778,0.9,1.6],[14.785,0.9,1.5],null,
[14.885,0.8,1.5],[14.904,0.7,1.4],null,
[14.956,0.7,1.6],[14.97,1.3,1.6],[14.99,1.55,1.8],[15.0,1.65,1.9]];
const lwp_adiab_band = [[12.0,2.42,2.58],[12.027,2.38,2.52],[12.046,1.45,1.75],[12.066,0.7,1.4],[12.075,0.5,1.35],[12.085,0.8,1.4],[12.107,0.5,1.3],null,
[12.258,0.6,1.3],[12.275,1.8,2.0],[12.304,1.55,1.78],[12.324,1.2,1.6],[12.343,1.85,2.02],[12.358,1.95,2.1],[12.372,1.1,1.45],[12.390,0.9,1.3],[12.411,1.8,1.98],[12.441,2.17,2.35],[12.470,1.95,2.1],[12.489,1.4,1.8],[12.509,2.45,2.62],[12.523,1.9,2.1],[12.538,0.8,1.3],[12.557,0.7,1.3],[12.577,1.55,1.8],[12.591,1.6,1.8],[12.606,0.7,1.3],[12.625,1.0,1.5],[12.640,0.6,1.3],null,
[12.674,1.6,2.3],[12.694,0.8,1.3],[12.708,1.2,1.7],[12.723,1.6,1.9],[12.742,0.8,1.3],[12.757,0.7,1.3],[12.776,1.95,2.2],[12.808,1.75,2.0],[12.822,1.95,2.15],[12.840,1.4,1.75],[12.857,0.8,1.3],[12.869,1.75,2.0],[12.890,2.15,2.35],[12.937,2.5,2.7],[12.986,2.85,2.98],[13.005,2.88,3.0],[13.025,2.8,2.95],[13.039,2.2,2.45],[13.074,1.95,2.2],[13.093,1.3,1.65],[13.108,1.2,1.5],[13.122,2.12,2.3],[13.156,2.28,2.46],[13.171,1.6,1.9],[13.205,1.45,1.75],[13.224,1.8,2.05],[13.239,1.55,1.85],[13.278,2.02,2.22],[13.322,2.28,2.45],[13.356,2.25,2.42],[13.375,1.8,2.05],[13.405,1.8,2.1],[13.453,2.75,2.9],[13.492,2.93,3.06],[13.521,3.0,3.12],[13.555,2.95,3.07],[13.584,2.6,2.85],[13.606,0.9,1.3],null,
[13.757,0.9,1.3],[13.772,1.6,1.85],[13.806,1.5,1.78],[13.823,1.3,1.6],[13.855,1.92,2.1],[13.872,1.93,2.1],[13.886,1.75,1.98],[13.920,1.0,1.4],null,
[13.971,1.3,1.6],[13.989,1.35,1.65],[14.005,0.8,1.3],[14.021,0.5,1.3],[14.039,1.55,1.75],[14.071,1.2,1.5],[14.101,2.15,2.35],[14.138,2.65,2.8],[14.154,2.25,2.42],[14.186,2.66,2.82],[14.219,2.48,2.65],[14.252,1.92,2.12],[14.286,1.65,1.92],[14.303,1.3,1.7],[14.334,2.32,2.48],[14.352,2.36,2.5],[14.385,1.9,2.12],[14.403,1.2,1.6],[14.417,0.7,1.3],null,
[14.554,1.5,1.95],[14.570,1.1,1.6],[14.607,2.2,2.45],[14.641,2.93,3.08],[14.656,2.98,3.12],[14.670,2.85,3.0],[14.722,2.96,3.1],[14.737,2.9,3.05],[14.753,2.0,2.4],[14.773,1.4,1.9],[14.787,1.5,1.95],null,
[14.888,0.5,1.6],[14.904,0.5,1.6],null,
[14.956,0.9,1.4],[14.967,1.4,1.7],[15.0,1.7,2.0]];
const lwp_adiab_marks = [[12.208,1.12],[13.689,1.12],[14.504,1.12]];
const lwp_phy_marks = [[12.208,0.55]];

// Panel 5: Phy-Iter data-quality flag, one per minute starting at FLAG_T0 (minute centres)
const FLAG_T0 = 12.0, FLAG_DT = 1/60;
const dqFlag = [0,0,0,0,4,0,4,5,5,5,5,5,4,5,5,4,
0,0,0,0,0,0,0,0,0,0,0,0,0,0,0,0,0,
4,0,0,4,0,4,5,3,4,0,0,4,3,3,
0,0,0,0,0,0,0,0,0,0,0,0,0,0,0,0,0,0,0,0,0,0,0,0,0,0,0,0,
6,
0,0,0,0,0,0,0,0,0,0,0,0,0,0,0,0,0,
11,11,11,11,5,5,5,5,4,5,5,5,4,
0,0,0,0,0,0,0,0,0,0,
5,5,3,0,4,4,
0,0,0,0,0,0,0,0,0,0,0,0,0,0,0,0,0,0,0,0,0,0,0,
4,5,5,5,5,3,5,5,0,0,0,0,11,11,
0,0,0,0,0,0,0,0,
4,5,5,5,5,5,4,4,5,5,4,0,0];
// secondary flag values reported in the same minute: [minute index, flag]
const dqFlagExtra = [[93,9],[96,4],[157,9],[158,9]];

// ---------------- CHART ----------------
const F = 'DejaVu Sans';
const AXB = '#0072BD', DARK = '#262626';
const C2C = '#0000FF', C3C = '#ADD8E6', CPHY = '#FF8C00', CADI = '#800080';
const W2C = 3.5, W3C = 3.5, WPHY = 8, WADI = 4.5;
const overlayColors = {tan:'rgba(210,180,140,0.5)', brown:'rgba(165,42,42,0.5)', gray:'rgba(204,204,204,0.5)', yellow:'rgba(255,255,0,0.5)', cyan:'rgba(0,255,255,0.5)'};
const flagStripKind = {3:'gray', 4:'gray', 5:'yellow', 11:'cyan'};

const tops = [298, 1427, 2555, 3680, 4804];
const heights = [907, 901, 895, 902, 907];
const yRanges = [[22.97,55.25],[13.98,65.6],[1.106,1.854],[-0.1,3.43],[-0.6,11.4]];
const yTicks = [[25,30,35,40,45,50,55],[20,30,40,50,60],[1.2,1.3,1.4,1.5,1.6,1.7,1.8],[0,0.5,1,1.5,2,2.5,3],[0,2,4,6,8,10]];
const yNames = ['Zenith BT 23 GHz, K','Zenith BT 31 GHz, K','Precip. Water Vapor, mm','log10 Liquid Water Path, log10(g/m²)','MWR Phy Iter DQ Flag'];

function toLine(arr){
  const out = []; let last = 12;
  for (const p of arr){ if (p === null) out.push([last + 1e-4, '-']); else { out.push(p); last = p[0]; } }
  return out;
}
function splitSegs(arr){
  const segs = []; let cur = [];
  for (const p of arr){ if (p === null){ if (cur.length) segs.push(cur); cur = []; } else cur.push(p); }
  if (cur.length) segs.push(cur);
  return segs;
}
function uniform(vals, t0, dt){ return vals.map((v,i)=>[t0 + i*dt, v]); }

const grid = tops.map((t,i)=>({left:375, right:817, top:t, height:heights[i], containLabel:false}));
const xAxis = tops.map((t,i)=>({type:'value', gridIndex:i, min:12, max:15, interval:0.5,
  axisLine:{show:true, onZero:false, lineStyle:{color:DARK, width:2.5}},
  axisTick:{show:true, inside:true, length:27, lineStyle:{color:DARK, width:2.5}},
  axisLabel:{show:true, color:DARK, fontSize:38, fontFamily:F, margin:31, showMinLabel:true, showMaxLabel:true},
  splitLine:{show:false},
  name:'UTC hours on 20250802', nameLocation:'middle', nameGap:97,
  nameTextStyle:{color:DARK, fontSize:46, fontFamily:F}}));
const yAxis = [];
tops.forEach((t,i)=>{
  yAxis.push({type:'value', gridIndex:i, position:'left', min:yRanges[i][0], max:yRanges[i][1],
    axisLine:{show:true, onZero:false, lineStyle:{color:AXB, width:2.5}},
    axisTick:{show:true, inside:true, length:27, customValues:yTicks[i], lineStyle:{color:AXB, width:2.5}},
    axisLabel:{show:true, customValues:yTicks[i], color:AXB, fontSize:38, fontFamily:F, margin:32, formatter:v=>String(v)},
    splitLine:{show:false},
    name:yNames[i], nameLocation:'middle', nameGap:108,
    nameTextStyle:{color:AXB, fontSize:46, fontFamily:F}});
  yAxis.push({type:'value', gridIndex:i, position:'right', min:yRanges[i][0], max:yRanges[i][1],
    axisLine:{show:true, onZero:false, lineStyle:{color:AXB, width:2.5}},
    axisTick:{show:false}, axisLabel:{show:false}, splitLine:{show:false}});
});

function lineS(name, panel, data, color, width, z){
  return {type:'line', name, xAxisIndex:panel, yAxisIndex:2*panel, data:toLine(data), showSymbol:false, symbol:'none',
    connectNulls:false, clip:true, z:z||2, animation:false, silent:true,
    lineStyle:{color, width, join:'round'}, itemStyle:{color}};
}
function stripS(panel, strips){
  return {type:'custom', name:'_strips'+panel, xAxisIndex:panel, yAxisIndex:2*panel, z:3, silent:true, clip:true, animation:false,
    data: strips.map(s=>[s[0], s[1]]), encode:{x:[0,1]},
    renderItem:(params, api)=>{
      const cs = params.coordSys; const y0 = yRanges[panel][0];
      const a = api.coord([api.value(0), y0]); const b = api.coord([api.value(1), y0]);
      const kind = strips[params.dataIndex][2];
      return {type:'rect', shape:{x:a[0], y:cs.y, width:b[0]-a[0], height:cs.height}, style:{fill:overlayColors[kind]}};
    }};
}
function bandS(panel, segs, color){
  return {type:'custom', name:'_band'+panel+color, xAxisIndex:panel, yAxisIndex:2*panel, z:2, silent:true, clip:true, animation:false,
    data: segs.map(s=>[s[0][0], s[s.length-1][0]]), encode:{x:[0,1]},
    renderItem:(params, api)=>{
      const s = segs[params.dataIndex];
      const up = s.map(p=>api.coord([p[0], p[2]]));
      const lo = s.slice().reverse().map(p=>api.coord([p[0], p[1]]));
      return {type:'polygon', shape:{points:up.concat(lo)}, style:{fill:color}};
    }};
}
const X_PATH = 'path://M2,0 L5,3 L8,0 L10,2 L7,5 L10,8 L8,10 L5,7 L2,10 L0,8 L3,5 L0,2 Z';

// strips for LWP panel derived from DQ flags
const lwpStrips = [];
dqFlag.forEach((f,k)=>{ const kind = flagStripKind[f]; if (kind) lwpStrips.push([FLAG_T0 + k*FLAG_DT, FLAG_T0 + (k+1)*FLAG_DT, kind]); });

const pwvPhyBand = [pwv_phy.map(p=>[p[0], p[1]-PWV_PHY_UNC, p[1]+PWV_PHY_UNC])];

const flagPts = dqFlag.map((f,k)=>[FLAG_T0 + (k+0.5)*FLAG_DT, f]).concat(dqFlagExtra.map(e=>[FLAG_T0 + (e[0]+0.5)*FLAG_DT, e[1]]));

const N = {
  p1:['MWR 2C (tan = wet window)','MWR 3C','Phy-Iter'],
  p2:['MWR2C','MWR 3C ','Phy-Iter '],
  p3:['MWR 2C PWV','MWR 3C PWV','Phy-Iter PWV\n(tan = MWR 2C only)\n(brown = MWR 3C only)'],
  p4:['MWR 2C LWP','MWR 3C LWP','Phy-Iter LWP','Adiabatic LWP']
};
const series = [
  // panel 1
  lineS(N.p1[0], 0, tb23_2c, C2C, W2C),
  lineS(N.p1[1], 0, tb23_3c, C3C, W3C),
  lineS(N.p1[2], 0, tb23_phy, CPHY, WPHY),
  stripS(0, wetWindows),
  // panel 2
  lineS(N.p2[0], 1, tb31_2c, C2C, W2C),
  lineS(N.p2[1], 1, tb31_3c, C3C, W3C),
  lineS(N.p2[2], 1, tb31_phy, CPHY, WPHY),
  // panel 3
  lineS(N.p3[0], 2, uniform(pwv_2c, PWV_T0, PWV_DT), C2C, 3),
  lineS(N.p3[1], 2, uniform(pwv_3c, PWV_T0, PWV_DT), C3C, W3C),
  bandS(2, pwvPhyBand, 'rgba(255,140,0,0.2)'),
  lineS(N.p3[2], 2, pwv_phy, CPHY, WPHY),
  stripS(2, pwvWindows),
  // panel 4
  bandS(3, splitSegs(lwp_adiab_band), 'rgba(128,0,128,0.2)'),
  bandS(3, splitSegs(lwp_phy_band), 'rgba(255,140,0,0.2)'),
  lineS(N.p4[0], 3, lwp_2c, C2C, W2C),
  lineS(N.p4[1], 3, lwp_3c, C3C, 4),
  lineS(N.p4[2], 3, lwp_phy, CPHY, WPHY),
  lineS(N.p4[3], 3, lwp_adiab, CADI, WADI),
  {type:'scatter', name:'_adiabMarks', xAxisIndex:3, yAxisIndex:6, data:lwp_adiab_marks, symbol:X_PATH, symbolSize:24, itemStyle:{color:CADI}, silent:true, animation:false, z:2},
  {type:'scatter', name:'_phyMarks', xAxisIndex:3, yAxisIndex:6, data:lwp_phy_marks, symbol:X_PATH, symbolSize:24, itemStyle:{color:CPHY}, silent:true, animation:false, z:2},
  stripS(3, lwpStrips),
  // panel 5
  {type:'scatter', name:'_flag', xAxisIndex:4, yAxisIndex:8, data:flagPts, symbol:'circle', symbolSize:9, itemStyle:{color:CPHY}, silent:true, animation:false}
];

function legendAt(names, widths, colors, left, top){
  return {data:names.map((n,i)=>({name:n, lineStyle:{width:widths[i], color:colors[i], opacity:1}, itemStyle:{opacity:0}})),
    left, top, orient:'vertical', itemWidth:235, itemHeight:24, itemGap:0, selectedMode:false, z:20,
    itemStyle:{opacity:0},
    textStyle:{fontSize:39, fontFamily:F, color:'#000', lineHeight:58, padding:[0,0,0,19]}};
}
const option = {
  backgroundColor:'#ffffff', animation:false,
  grid, xAxis, yAxis, series,
  legend:[
    legendAt(N.p1, [W2C+1,W3C+1,WPHY], [C2C,C3C,CPHY], 625, 365),
    legendAt(N.p2, [W2C+1,W3C+1,WPHY], [C2C,C3C,CPHY], 492, 1490),
    legendAt(N.p3, [W2C+1,W3C+1,WPHY], [C2C,C3C,CPHY], 453, 2630),
    legendAt(N.p4, [W2C+1,W3C+1,WPHY,WADI], [C2C,C3C,CPHY,CADI], 1427, 4311)
  ]
};
const chart = echarts.init(document.getElementById('c'), null, {renderer:'canvas', width:3825, height:6000});
chart.setOption(option);
</script>
</body></html>
